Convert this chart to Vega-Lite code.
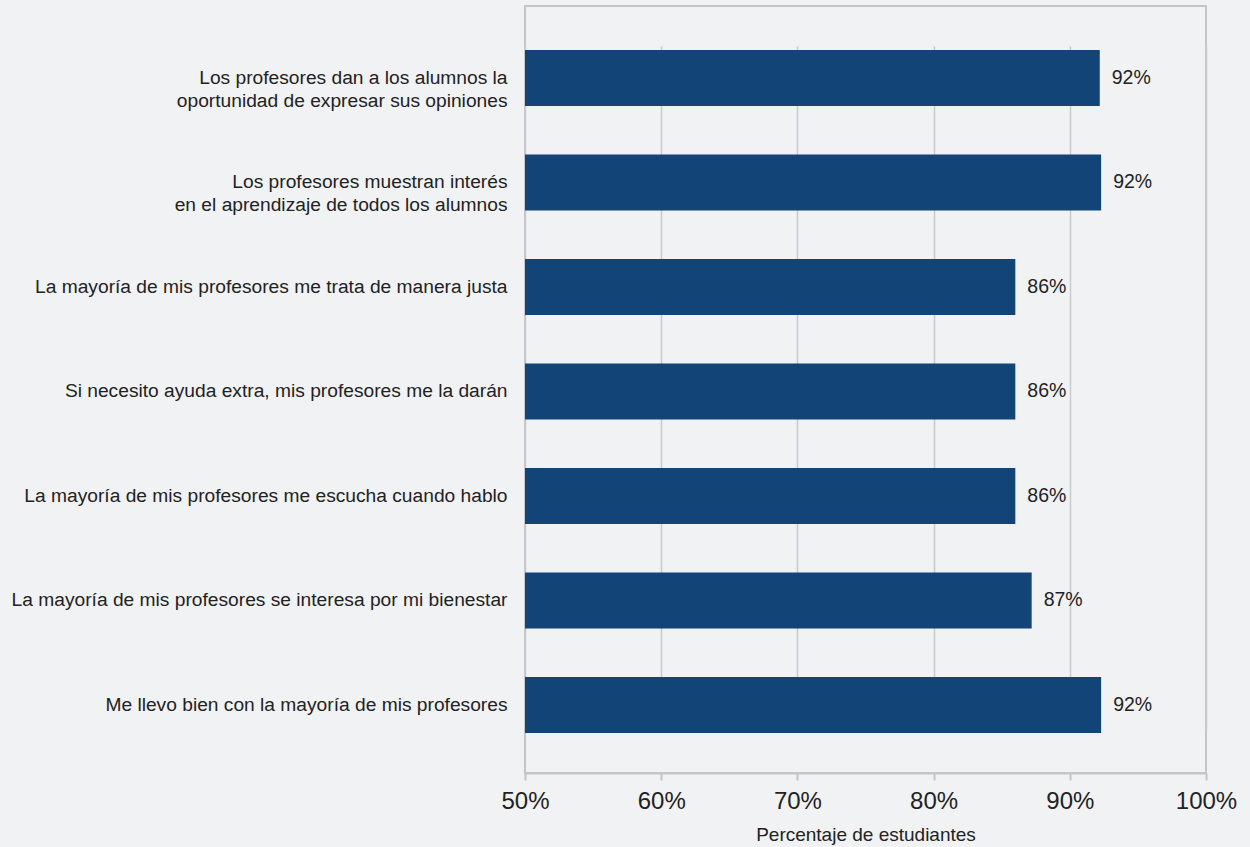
{
  "$schema": "https://vega.github.io/schema/vega-lite/v6.json",
  "width": 681,
  "height": 767,
  "autosize": {"type": "none"},
  "padding": {"left": 525, "top": 6, "right": 44, "bottom": 74},
  "background": "#f1f2f4",
  "config": {
    "font": "Liberation Sans",
    "view": {"stroke": "#c4c5c8", "strokeWidth": 2, "fill": "#f1f2f4"}
  },
  "data": {
    "values": [
      {"item": "Los profesores dan a los alumnos la \noportunidad de expresar sus opiniones", "value": 92.2, "label": "92%"},
      {"item": "Los profesores muestran interés \nen el aprendizaje de todos los alumnos", "value": 92.3, "label": "92%"},
      {"item": "La mayoría de mis profesores me trata de manera justa ", "value": 86.0, "label": "86%"},
      {"item": "Si necesito ayuda extra, mis profesores me la darán ", "value": 86.0, "label": "86%"},
      {"item": "La mayoría de mis profesores me escucha cuando hablo", "value": 86.0, "label": "86%"},
      {"item": "La mayoría de mis profesores se interesa por mi bienestar", "value": 87.2, "label": "87%"},
      {"item": "Me llevo bien con la mayoría de mis profesores", "value": 92.3, "label": "92%"}
    ]
  },
  "encoding": {
    "y": {
      "field": "item",
      "type": "nominal",
      "sort": null,
      "scale": {"range": [43.9, 726.9], "paddingInner": 0.464, "paddingOuter": 0},
      "axis": {
        "title": null,
        "domain": false,
        "ticks": false,
        "labelFontSize": 19.2,
        "labelColor": "#222222",
        "labelPadding": 18,
        "labelLineHeight": 23,
        "labelLimit": 600,
        "labelExpr": "split(datum.label, '\\n')"
      }
    }
  },
  "layer": [
    {
      "mark": {"type": "bar", "color": "#134477"},
      "encoding": {
        "x": {
          "field": "value",
          "type": "quantitative",
          "scale": {"domain": [50, 100], "zero": false, "nice": false},
          "axis": {
            "title": "Percentaje de estudiantes",
            "titleFontSize": 19,
            "titleFontWeight": "normal",
            "titleColor": "#222222",
            "titlePadding": 12,
            "values": [50, 60, 70, 80, 90, 100],
            "labelExpr": "datum.value + '%'",
            "labelFontSize": 24,
            "labelColor": "#222222",
            "labelPadding": 9,
            "labelFlush": false,
            "domainColor": "#c4c5c8",
            "domainWidth": 2,
            "tickColor": "#c4c5c8",
            "tickWidth": 2,
            "tickSize": 7,
            "grid": true,
            "gridColor": "#c9cacd",
            "gridWidth": 1.5
          }
        },
        "x2": {"datum": 50}
      }
    },
    {
      "mark": {"type": "text", "align": "left", "baseline": "middle", "dx": 12, "fontSize": 19.5, "color": "#222222"},
      "encoding": {
        "x": {"field": "value", "type": "quantitative"},
        "text": {"field": "label", "type": "nominal"}
      }
    }
  ]
}
